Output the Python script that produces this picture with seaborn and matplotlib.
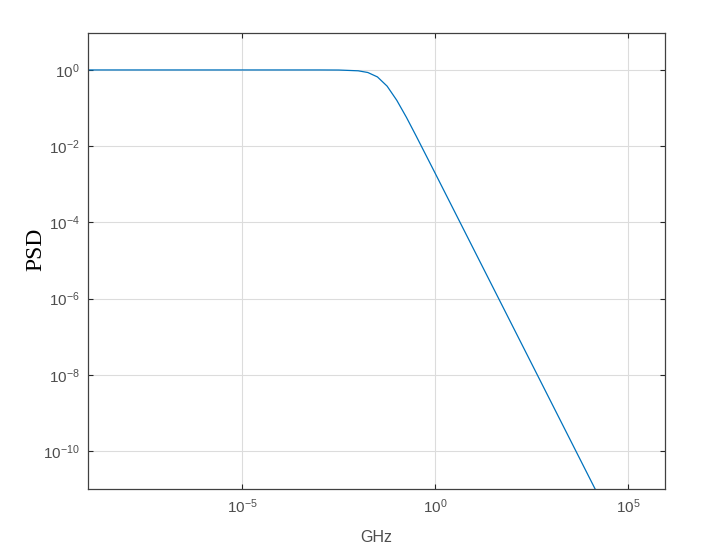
import numpy as np
import matplotlib
matplotlib.use("Agg")
import matplotlib.pyplot as plt
import matplotlib.ticker as mticker
import pandas as pd
import seaborn as sns

# values (log-log PSD)
freq_ghz = [1e-9, 1e-3, 3.16e-3, 1e-2, 1.78e-2, 3.16e-2, 5.62e-2, 0.1, 0.178, 0.316,
            1.0, 10.0, 100.0, 1e3, 1e4, 1e5, 1e6]
psd = [1.0, 1.0, 0.995, 0.95, 0.857, 0.656, 0.376, 0.16, 0.057, 0.0187,
       1.9e-3, 1.9e-5, 1.9e-7, 1.9e-9, 1.9e-11, 1.9e-13, 1.9e-15]

x_ticks = [1e-5, 1e0, 1e5]
y_ticks = [1e-10, 1e-8, 1e-6, 1e-4, 1e-2, 1e0]

sns.set_theme(style="white")
plt.rcParams["font.family"] = ["Liberation Sans", "DejaVu Sans"]
plt.rcParams["axes.unicode_minus"] = False
plt.rcParams["mathtext.fontset"] = "custom"
plt.rcParams["mathtext.rm"] = "Liberation Sans"
plt.rcParams["mathtext.it"] = "Liberation Sans"

df = pd.DataFrame({"GHz": freq_ghz, "PSD": psd})

fig = plt.figure(figsize=(7.02, 5.5), dpi=100)
ax = fig.add_axes([88 / 702, 1 - 489 / 550, 577 / 702, 456 / 550])

sns.lineplot(data=df, x="GHz", y="PSD", ax=ax, color="#0072BD", linewidth=0.9)
ax.set_xscale("log")
ax.set_yscale("log")
ax.set_xlim(1e-9, 10 ** 5.95)
ax.set_ylim(1e-11, 10 ** 0.97)

ax.xaxis.set_major_locator(mticker.FixedLocator(x_ticks))
ax.yaxis.set_major_locator(mticker.FixedLocator(y_ticks))
ax.xaxis.set_minor_locator(mticker.NullLocator())
ax.yaxis.set_minor_locator(mticker.NullLocator())
fmt = mticker.FuncFormatter(lambda v, _: r"$\mathregular{10^{%d}}$" % round(np.log10(v)))
ax.xaxis.set_major_formatter(fmt)
ax.yaxis.set_major_formatter(fmt)

ax.grid(True, color="#dcdcdc", linewidth=0.8)
ax.tick_params(direction="in", length=3.5, width=0.8, colors="#262626",
               labelcolor="#4d4d4d", labelsize=11, top=True, right=True,
               bottom=True, left=True, pad=6)
for s in ax.spines.values():
    s.set_color("#404040")
    s.set_linewidth(0.9)

ax.set_xlabel("GHz", fontsize=11.5, color="#4d4d4d")
ax.xaxis.set_label_coords(0.5, -0.09)
ax.set_ylabel("PSD", fontsize=17, family=["Liberation Serif", "DejaVu Serif"], color="black")
ax.yaxis.set_label_coords(-0.091, 0.526)
ax.yaxis.label.set_va("center")

fig.savefig("out.png", dpi=100)
